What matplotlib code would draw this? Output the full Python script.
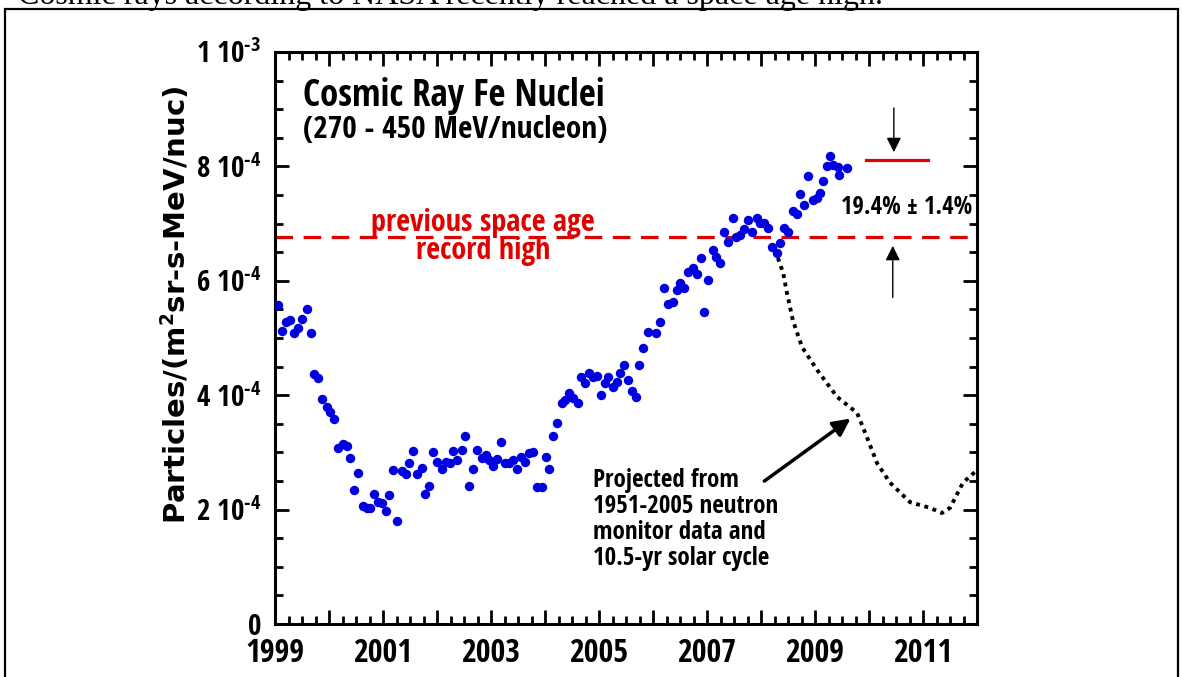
import matplotlib
matplotlib.use('Agg')
import matplotlib.pyplot as plt
from matplotlib import font_manager as fm
from matplotlib.patches import Rectangle
from matplotlib.ticker import MultipleLocator, FixedLocator

# Fe nuclei flux, 27-day averages (units of 1e-4 particles/(m2 sr s MeV/nuc))
fe_years = [1999.06, 1999.13, 1999.20, 1999.28, 1999.35, 1999.43, 1999.50, 1999.59, 1999.67, 1999.72,
            1999.80, 1999.87, 1999.96, 2000.02, 2000.09, 2000.17, 2000.26, 2000.33, 2000.39, 2000.46,
            2000.54, 2000.63, 2000.70, 2000.76, 2000.83, 2000.91, 2000.98, 2001.06, 2001.11, 2001.19,
            2001.26, 2001.35, 2001.43, 2001.48, 2001.56, 2001.63, 2001.72, 2001.78, 2001.85, 2001.93,
            2002.00, 2002.09, 2002.17, 2002.24, 2002.30, 2002.37, 2002.46, 2002.52, 2002.59, 2002.67,
            2002.74, 2002.83, 2002.91, 2002.96, 2003.04, 2003.11, 2003.19, 2003.26, 2003.33, 2003.41,
            2003.48, 2003.56, 2003.63, 2003.70, 2003.78, 2003.85, 2003.94, 2004.02, 2004.07, 2004.15,
            2004.22, 2004.31, 2004.37, 2004.44, 2004.52, 2004.61, 2004.67, 2004.74, 2004.81, 2004.89,
            2004.96, 2005.04, 2005.11, 2005.17, 2005.26, 2005.33, 2005.39, 2005.46, 2005.54, 2005.61,
            2005.69, 2005.74, 2005.81, 2005.91, 2006.06, 2006.13, 2006.20, 2006.28, 2006.37, 2006.44,
            2006.50, 2006.57, 2006.65, 2006.74, 2006.81, 2006.89, 2006.94, 2007.02, 2007.11, 2007.17,
            2007.24, 2007.31, 2007.39, 2007.48, 2007.54, 2007.61, 2007.69, 2007.76, 2007.83, 2007.93,
            2007.98, 2008.06, 2008.13, 2008.20, 2008.30, 2008.35, 2008.43, 2008.50, 2008.59, 2008.67,
            2008.72, 2008.80, 2008.87, 2008.96, 2009.04, 2009.09, 2009.15, 2009.22, 2009.28, 2009.33,
            2009.43, 2009.44, 2009.59]
fe_flux = [5.58, 5.12, 5.28, 5.31, 5.09, 5.17, 5.33, 5.51, 5.09, 4.37,
           4.30, 3.93, 3.79, 3.71, 3.58, 3.08, 3.15, 3.11, 2.90, 2.34,
           2.64, 2.06, 2.03, 2.03, 2.27, 2.13, 2.12, 1.98, 2.26, 2.69,
           1.80, 2.67, 2.62, 2.81, 3.02, 2.62, 2.73, 2.27, 2.41, 3.01,
           2.83, 2.71, 2.83, 2.81, 3.02, 2.87, 3.04, 3.29, 2.41, 2.71,
           3.04, 2.90, 2.95, 2.87, 2.76, 2.88, 3.18, 2.81, 2.81, 2.87,
           2.71, 2.92, 2.83, 2.99, 3.01, 2.40, 2.40, 2.92, 2.71, 3.29,
           3.51, 3.86, 3.92, 4.04, 3.95, 3.86, 4.32, 4.21, 4.39, 4.32,
           4.34, 4.00, 4.21, 4.32, 4.14, 4.23, 4.39, 4.53, 4.27, 4.07,
           3.97, 4.53, 4.83, 5.10, 5.09, 5.28, 5.87, 5.59, 5.63, 5.84,
           5.96, 5.87, 6.15, 6.22, 6.12, 6.40, 5.45, 6.01, 6.54, 6.42,
           6.31, 6.85, 6.68, 7.10, 6.77, 6.80, 6.91, 7.06, 6.85, 7.10,
           7.01, 7.01, 6.92, 6.59, 6.49, 6.66, 6.92, 6.85, 7.22, 7.17,
           7.52, 7.33, 7.83, 7.41, 7.45, 7.53, 7.74, 8.01, 8.18, 8.02,
           7.99, 7.85, 7.97]

# projection from neutron monitor data + 10.5-yr cycle
proj_years = [2008.26, 2008.41, 2008.48, 2008.59, 2008.76, 2009.04, 2009.41, 2009.78, 2009.96,
              2010.15, 2010.39, 2010.76, 2011.13, 2011.35, 2011.50, 2011.74, 2012.00]
proj_flux = [6.54, 6.14, 5.79, 5.31, 4.84, 4.44, 3.97, 3.69, 3.27,
             2.81, 2.47, 2.13, 2.03, 1.94, 2.03, 2.47, 2.69]

record_high = 6.77
new_high = 8.11
new_high_span = [2009.94, 2011.09]

ytick_vals = [0, 2, 4, 6, 8, 10]
ytick_labels = ['0', r'2 10$^{\text{-4}}$', r'4 10$^{\text{-4}}$', r'6 10$^{\text{-4}}$',
                r'8 10$^{\text{-4}}$', r'1 10$^{\text{-3}}$']
xtick_years = list(range(1999, 2013))
xtick_labels = [str(y) if y % 2 == 1 else '' for y in xtick_years]


# look for a narrow / condensed bold sans font, the original text looks tall and narrow
def pick_condensed():
    narrow = ('condensed', 'semi-condensed', 'extra-condensed', 'ultra-condensed')
    found = []
    for f in fm.fontManager.ttflist:
        w = f.weight if isinstance(f.weight, int) else fm.weight_dict.get(f.weight, 400)
        if w < 600 or f.style != 'normal':
            continue
        if f.stretch in narrow or 'Narrow' in f.name or 'Condensed' in f.name or 'Cond' in f.fname:
            if 'Mono' in f.name or 'Serif' in f.name:
                continue
            found.append(f)
    order = ['Liberation Sans Narrow', 'Noto Sans', 'Open Sans', 'Roboto', 'DejaVu Sans']
    found.sort(key=lambda f: min([i for i, n in enumerate(order) if f.name.startswith(n)] or [99]))
    return found[0] if found else None


cf = pick_condensed()
if cf is not None:
    fam, stretch, k = cf.name, cf.stretch, 1.0
else:
    fam, stretch, k = 'Liberation Sans', 'normal', 0.86

plt.rcParams['font.family'] = [fam, 'DejaVu Sans']
plt.rcParams['font.weight'] = 'bold'
plt.rcParams['font.stretch'] = stretch
plt.rcParams['mathtext.fontset'] = 'custom'
pat = fam + ':weight=bold' + ('' if stretch == 'normal' else ':stretch=' + str(stretch))
plt.rcParams['mathtext.rm'] = pat
plt.rcParams['mathtext.it'] = pat
plt.rcParams['mathtext.bf'] = pat

fig = plt.figure(figsize=(11.82, 6.77), dpi=100)
ax = fig.add_axes([275/1182, 1-624/677, (977-275)/1182, (624-52)/677])

red = '#e00000'
ax.axhline(record_high, color=red, lw=2.3, ls=(0, (5.5, 3.3)), zorder=1)
ax.plot(fe_years, fe_flux, 'o', color='#0000e0', ms=6.8, mew=0, zorder=3)
ax.plot(proj_years, proj_flux, color='k', lw=2.8, ls=(0, (1, 1.2)), zorder=2)
ax.plot(new_high_span, [new_high, new_high], color=red, lw=2.3)

# arrows bracketing the increase
ax.annotate('', xy=(2010.46, 8.20), xytext=(2010.46, 9.07),
            arrowprops=dict(arrowstyle='-|>', color='k', lw=1, mutation_scale=22))
ax.annotate('', xy=(2010.44, 6.66), xytext=(2010.44, 5.66),
            arrowprops=dict(arrowstyle='-|>', color='k', lw=1, mutation_scale=22))
ax.text(2010.70, 7.29, u'19.4% \u00b1 1.4%', ha='center', va='center', fontsize=17.7 * k)

ax.annotate('', xy=(2009.70, 3.62), xytext=(2008.02, 2.47),
            arrowprops=dict(arrowstyle='-|>', color='k', lw=2.5, mutation_scale=26))
ax.text(2004.89, 2.72, 'Projected from\n1951-2005 neutron\nmonitor data and\n10.5-yr solar cycle',
        ha='left', va='top', fontsize=18 * k, linespacing=1.05)

ax.text(2002.85, 7.01, 'previous space age', color=red, ha='center', va='center', fontsize=21.8 * k)
ax.text(2002.85, 6.52, 'record high', color=red, ha='center', va='center', fontsize=21.8 * k)

ax.text(1999.52, 9.05, 'Cosmic Ray Fe Nuclei', ha='left', va='baseline', fontsize=26.5 * k)
ax.text(1999.52, 8.50, '(270 - 450 MeV/nucleon)', ha='left', va='baseline', fontsize=22.5 * k)

ax.set_xlim(1999, 2012)
ax.set_ylim(0, 10)
ax.xaxis.set_major_locator(FixedLocator(xtick_years))
ax.set_xticklabels(xtick_labels)
ax.xaxis.set_minor_locator(MultipleLocator(0.25))
ax.yaxis.set_major_locator(FixedLocator(ytick_vals))
ax.set_yticklabels(ytick_labels)
ax.yaxis.set_minor_locator(MultipleLocator(0.5))
ax.tick_params(which='both', direction='in', top=True, right=True, width=2)
ax.tick_params(which='major', length=10)
ax.tick_params(axis='x', which='major', labelsize=23 * k, pad=9)
ax.tick_params(axis='y', which='major', labelsize=21 * k, pad=10)
ax.tick_params(which='minor', length=6)
for s in ax.spines.values():
    s.set_linewidth(2.2)

# the rotated label reads long and wide in the original, so a wide bold face
ax.set_ylabel('Particles/(m$^{\\mathsf{2}}$sr-s-MeV/nuc)', fontsize=21, family='DejaVu Sans',
              fontstretch='normal', fontweight='bold')
ax.yaxis.set_label_coords(-0.118, 0.558)

# page frame and the caption sentence cut at the top
fig.add_artist(Rectangle((5/1182, -0.1), (1178-5)/1182, 1.1-9/677, transform=fig.transFigure,
                         fill=False, lw=1.6, ec='k'))
fig.text(18/1182, 1-4/677, 'Cosmic rays according to NASA recently reached a space age high.',
         family='Liberation Serif', fontweight='normal', fontstretch='normal', fontsize=23,
         va='baseline', ha='left')

fig.savefig('out.png', dpi=100)
